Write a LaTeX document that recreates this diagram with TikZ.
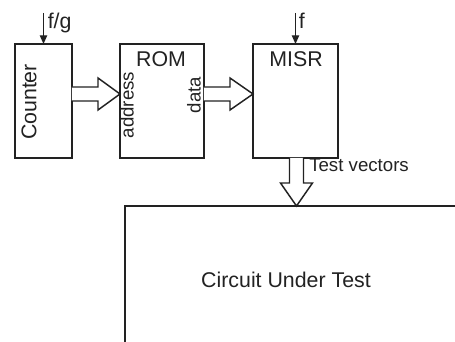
\documentclass[tikz,border=0pt]{standalone}
\usepackage{fontspec}
\setmainfont{Liberation Sans}
\usetikzlibrary{arrows.meta,calc,positioning}
\definecolor{ink}{HTML}{222222}
\tikzset{
  blockbox/.style={draw=ink,line width=1.5pt,inner sep=0pt,outer sep=0pt,anchor=north west},
  fatarrow/.style={draw=ink,line width=1.1pt,fill=white,line join=miter},
  sig/.style={-{Triangle[length=6.5pt,width=5.5pt]},draw=ink,line width=0.9pt},
  vtext/.style={rotate=90,inner sep=0pt,text=ink},
  lbl/.style={inner sep=0pt,text=ink}
}

\begin{document}
\begin{tikzpicture}[x=0.75pt,y=-0.75pt]
\useasboundingbox (0,0) rectangle (455,342);
% blocks
\node[blockbox,minimum width=42.75pt,minimum height=85.5pt] (cnt) at (15,44) {};
\node[blockbox,minimum width=63pt,minimum height=85.5pt] (rom) at (120,44) {};
\node[blockbox,minimum width=63.75pt,minimum height=85.5pt] (misr) at (253,44) {};
\node[blockbox,minimum width=270pt,minimum height=120pt] (cut) at (125,206) {};
% texts
\node[vtext,font=\fontsize{16}{19}\selectfont] (cntlbl) at (29,102) {Counter};
\node[lbl,anchor=base,font=\fontsize{16}{19}\selectfont] (romlbl) at (161,67) {ROM};
\node[lbl,anchor=base,font=\fontsize{16}{19}\selectfont] (misrlbl) at (296,67) {MISR};
\node[vtext,font=\fontsize{14}{17}\selectfont] (addr) at (127,105) {address};
\node[vtext,font=\fontsize{14}{17}\selectfont] (dat) at (194,95) {data};
\node[lbl,anchor=base,font=\fontsize{16}{19}\selectfont] (cutlbl) at (286,288) {Circuit Under Test};
% clock inputs
\coordinate (fgin) at (43.5,13);
\coordinate (fin) at (295.5,13);
\draw[sig] (fgin) -- (cnt.north);
\draw[sig] (fin) -- (misr.north);
\node[lbl,anchor=north west,font=\fontsize{16}{19}\selectfont] (fglbl) at ($(fgin)+(4,0)$) {f/g};
\node[lbl,anchor=north west,font=\fontsize{16}{19}\selectfont] (flbl) at ($(fin)+(3,0)$) {f};
% wide buses
\draw[fatarrow] (cnt.east) ++(0,-14) -- ++(26,0) -- ++(0,-9) -- ++(22,16) -- ++(-22,16) -- ++(0,-9) -- (cnt.east);
\draw[fatarrow] (rom.east) ++(0,-14) -- ++(26,0) -- ++(0,-9) -- ++(23,16) -- ++(-23,16) -- ++(0,-9) -- (rom.east);
\draw[fatarrow] (misr.south) ++(-6,0) -- ++(0,25) -- ++(-9,0) -- ++(16,23) -- ++(16,-23) -- ++(-9,0) -- ++(0,-25);
\node[lbl,anchor=base west,font=\fontsize{14}{17}\selectfont] (tv) at (309,172) {Test vectors};
\end{tikzpicture}
\end{document}
